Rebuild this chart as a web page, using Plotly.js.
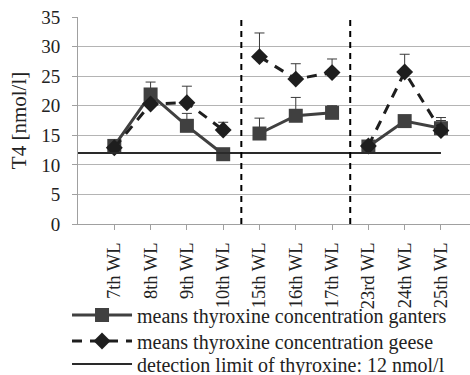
<!DOCTYPE html>
<html>
<head>
<meta charset="utf-8">
<script src="https://cdn.plot.ly/plotly-3.0.1.min.js"></script>
<style>
  html, body { margin: 0; padding: 0; background: #fff; }
  #chart { width: 470px; height: 375px; }
</style>
</head>
<body>
<div id="chart"></div>
<script>
// Week of laying (WL) categories
const weeks = ['7th WL', '8th WL', '9th WL', '10th WL', '15th WL', '16th WL', '17th WL', '23rd WL', '24th WL', '25th WL'];

// Sampling periods: number of weeks in each block (lines are not joined across blocks)
const blockSizes = [4, 3, 3];

// Mean T4 concentration [nmol/l]
const ganters = [13.2, 21.9, 16.6, 11.8, 15.3, 18.3, 18.8, 13.1, 17.4, 16.2];
const geese   = [12.9, 20.3, 20.5, 15.9, 28.3, 24.5, 25.6, 13.2, 25.7, 15.8];

// Upper error (SD) for each mean
const gantersErr = [1.0, 2.1, 2.1, 0, 2.6, 3.1, 1.2, 0, 0, 1.3];
const geeseErr   = [0, 0, 2.8, 1.3, 4.0, 2.6, 2.3, 0, 3.0, 2.2];

// Detection limit of thyroxine [nmol/l]
const detectionLimit = 12;

// Legend labels
const labels = [
  'means thyroxine concentration ganters',
  'means thyroxine concentration geese',
  'detection limit of thyroxine: 12 nmol/l'
];

const serif = "'Liberation Serif', 'Times New Roman', serif";
const idx = weeks.map((_, i) => i);

// Insert a null between blocks so each period is drawn as its own segment
function withBreaks(values) {
  const out = [];
  let start = 0;
  blockSizes.forEach((n, b) => {
    if (b > 0) out.push(null);
    for (let i = start; i < start + n; i++) out.push(values[i]);
    start += n;
  });
  return out;
}

const xs = withBreaks(idx);
const errStyle = { type: 'data', symmetric: false, color: '#3a3a3a', thickness: 1, width: 5 };

function series(values, errs, name, legendId, line, marker) {
  const plus = withBreaks(errs).map(v => (v === null ? 0 : v));
  return {
    x: xs, y: withBreaks(values), name: name, legend: legendId,
    type: 'scatter', mode: 'lines+markers',
    connectgaps: false, line: line, marker: marker,
    error_y: Object.assign({ array: plus, arrayminus: plus.map(() => 0) }, errStyle)
  };
}

const traces = [
  series(ganters, gantersErr, labels[0], 'legend',
    { color: '#404040', width: 3 },
    { symbol: 'square', size: 14, color: '#404040' }),
  series(geese, geeseErr, labels[1], 'legend2',
    { color: '#1e1e1e', width: 3, dash: '10px,8px' },
    { symbol: 'diamond', size: 13, color: '#1e1e1e' }),
  {
    x: [-1, idx[idx.length - 1]], y: [detectionLimit, detectionLimit],
    name: labels[2], legend: 'legend3', type: 'scatter', mode: 'lines',
    line: { color: '#2a2a2a', width: 2 }
  }
];

// Separators between the sampling periods
const separators = [3.5, 6.5].map(x => ({
  type: 'line', xref: 'x', yref: 'paper', x0: x, x1: x, y0: 0, y1: 1,
  line: { color: '#000', width: 2, dash: '6px,5px' }
}));

// One legend per entry, stacked below the axis
function legendAt(y) {
  return {
    x: -0.028, y: y, xanchor: 'left', yanchor: 'middle',
    font: { family: serif, size: 20, color: '#222' },
    itemwidth: 60, bgcolor: 'rgba(0,0,0,0)', borderwidth: 0
  };
}

const layout = {
  width: 470, height: 375,
  margin: { l: 78, r: 0, t: 17, b: 151, autoexpand: false },
  paper_bgcolor: '#fff', plot_bgcolor: '#fff',
  font: { family: serif, color: '#222', size: 19 },
  showlegend: true,
  legend: legendAt(-0.440),
  legend2: legendAt(-0.565),
  legend3: legendAt(-0.676),
  xaxis: {
    range: [-1, 9.8], tickvals: idx, ticktext: weeks, tickangle: -90,
    showgrid: false, zeroline: false,
    showline: true, linecolor: '#a0a0a0', linewidth: 1,
    ticks: 'outside', ticklen: 5, tickcolor: '#a0a0a0',
    ticklabelstandoff: 5,
    tickfont: { family: serif, size: 18.5, color: '#222' }
  },
  yaxis: {
    range: [0, 35], dtick: 5, showgrid: true, gridcolor: '#b4b4b4', gridwidth: 1,
    zeroline: false, showline: true, linecolor: '#a0a0a0', linewidth: 1,
    ticks: 'outside', ticklen: 5, tickcolor: '#a0a0a0',
    ticklabelstandoff: 8,
    tickfont: { family: serif, size: 19, color: '#222' },
    title: { text: 'T4 [nmol/l]', font: { family: serif, size: 21, color: '#222' }, standoff: 8 }
  },
  shapes: separators
};

Plotly.newPlot('chart', traces, layout, { staticPlot: true, displayModeBar: false });
</script>
</body>
</html>
